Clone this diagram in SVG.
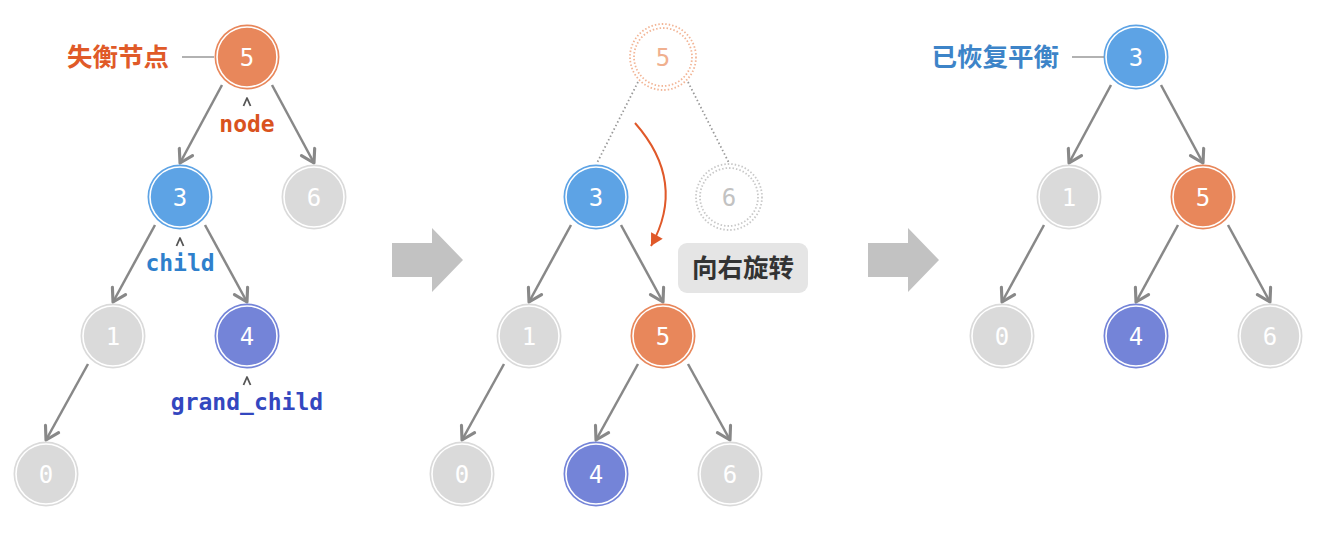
<svg xmlns="http://www.w3.org/2000/svg" width="1322" height="540" viewBox="0 0 1322 540">
<style>
.ring{stroke:none}
.inner{stroke:#fff;stroke-width:1.6}
.orange{fill:#E8875B}
.blue{fill:#5DA3E5}
.purple{fill:#7484D8}
.gray{fill:#DADADA}
.num{font-family:"DejaVu Sans Mono","Liberation Mono",monospace;font-size:24px;fill:#fff;text-anchor:middle}
.edge{stroke:#888;stroke-width:2.5;fill:none;marker-end:url(#chev)}
.dot{stroke:#999;stroke-width:1.8;fill:none;stroke-dasharray:1.5 2.5}
.lbl{font-family:"DejaVu Sans Mono","Liberation Mono",monospace;font-weight:bold;font-size:23px;text-anchor:middle}
.cjk{font-family:"Noto Sans CJK SC","Noto Sans",sans-serif;font-weight:bold;font-size:25.5px}
.tick{stroke:#555;stroke-width:1.8;fill:none;stroke-linejoin:round}
.lead{stroke:#999;stroke-width:1.5}
.bigarrow{fill:#C2C2C2}
</style>
<defs>
<marker id="chev" markerUnits="userSpaceOnUse" markerWidth="20" markerHeight="20" refX="0" refY="0" viewBox="-12 -8 14 16" orient="auto">
<path d="M-10,-6 L0,0 L-10,6" fill="none" stroke="#888" stroke-width="2.5" stroke-linecap="round" stroke-linejoin="round"/>
</marker>
<marker id="tri" markerUnits="userSpaceOnUse" markerWidth="16" markerHeight="16" refX="0" refY="0" viewBox="-10 -6 12 12" orient="auto">
<path d="M-9,-5 L0,0 L-9,5 Z" fill="#E0592A"/>
</marker>
</defs>

<!-- big arrows -->
<polygon class="bigarrow" points="392,243 432,243 432,228 463,260 432,292 432,277 392,277"/>
<polygon class="bigarrow" points="868,243 908,243 908,228 939,260 908,292 908,277 868,277"/>

<g id="connectors">
<!-- left tree -->
<path class="edge" d="M222,85 L180,163"/>
<path class="edge" d="M272,85 L314,163"/>
<path class="edge" d="M155,225 L113,302"/>
<path class="edge" d="M205,225 L247,302"/>
<path class="edge" d="M88,364 L46,440"/>
<!-- middle tree -->
<path class="dot" d="M638,82 L597,163"/>
<path class="dot" d="M688,82 L729,163"/>
<path class="edge" d="M571,225 L529,302"/>
<path class="edge" d="M621,225 L663,302"/>
<path class="edge" d="M504,364 L462,440"/>
<path class="edge" d="M638,364 L596,440"/>
<path class="edge" d="M688,364 L730,440"/>
<path d="M635,123 Q687,182 651,246" fill="none" stroke="#E0592A" stroke-width="2" marker-end="url(#tri)"/>
<!-- right tree -->
<path class="edge" d="M1111,85 L1069,163"/>
<path class="edge" d="M1161,85 L1203,163"/>
<path class="edge" d="M1044,225 L1002,302"/>
<path class="edge" d="M1178,225 L1136,302"/>
<path class="edge" d="M1228,225 L1270,302"/>
</g>

<!-- left tree nodes -->
<g id="L5"><circle class="ring orange" cx="247" cy="57" r="32.5"/><circle class="inner orange" cx="247" cy="57" r="30"/><text class="num" x="247" y="65.5">5</text></g>
<g id="L3"><circle class="ring blue" cx="180" cy="197" r="32.5"/><circle class="inner blue" cx="180" cy="197" r="30"/><text class="num" x="180" y="205.5">3</text></g>
<g id="L6"><circle class="ring gray" cx="314" cy="197" r="32.5"/><circle class="inner gray" cx="314" cy="197" r="30"/><text class="num" x="314" y="205.5">6</text></g>
<g id="L1"><circle class="ring gray" cx="113" cy="336" r="32.5"/><circle class="inner gray" cx="113" cy="336" r="30"/><text class="num" x="113" y="344.5">1</text></g>
<g id="L4"><circle class="ring purple" cx="247" cy="336" r="32.5"/><circle class="inner purple" cx="247" cy="336" r="30"/><text class="num" x="247" y="344.5">4</text></g>
<g id="L0"><circle class="ring gray" cx="46" cy="474" r="32.5"/><circle class="inner gray" cx="46" cy="474" r="30"/><text class="num" x="46" y="482.5">0</text></g>

<g id="label-unbalanced">
<text class="cjk" x="169" y="66" text-anchor="end" fill="#E05A28">失衡节点</text>
<line class="lead" x1="182" y1="57" x2="214" y2="57"/>
</g>
<g id="label-node"><path class="tick" d="M243.5,106 L247,98 L250.5,106"/><text class="lbl" x="247" y="132" fill="#D9531E">node</text></g>
<g id="label-child"><path class="tick" d="M176.5,246 L180,238 L183.5,246"/><text class="lbl" x="180" y="271" fill="#2F80CC">child</text></g>
<g id="label-grandchild"><path class="tick" d="M243.5,385 L247,377 L250.5,385"/><text class="lbl" x="247" y="410" fill="#3347BF">grand_child</text></g>

<!-- middle tree nodes -->
<g id="M5old">
<circle cx="663" cy="57" r="33" fill="none" stroke="#F2B596" stroke-width="1.8" stroke-dasharray="1.5 2"/>
<circle cx="663" cy="57" r="29" fill="none" stroke="#F2B596" stroke-width="1.8" stroke-dasharray="1.5 2"/>
<text class="num" x="663" y="65.5" style="fill:#F0B08F">5</text>
</g>
<g id="M6old">
<circle cx="729" cy="197" r="33" fill="none" stroke="#C8C8C8" stroke-width="1.8" stroke-dasharray="1.5 2"/>
<circle cx="729" cy="197" r="29" fill="none" stroke="#C8C8C8" stroke-width="1.8" stroke-dasharray="1.5 2"/>
<text class="num" x="729" y="205.5" style="fill:#C2C2C2">6</text>
</g>
<g id="M3"><circle class="ring blue" cx="596" cy="197" r="32.5"/><circle class="inner blue" cx="596" cy="197" r="30"/><text class="num" x="596" y="205.5">3</text></g>
<g id="M1"><circle class="ring gray" cx="529" cy="336" r="32.5"/><circle class="inner gray" cx="529" cy="336" r="30"/><text class="num" x="529" y="344.5">1</text></g>
<g id="M5"><circle class="ring orange" cx="663" cy="336" r="32.5"/><circle class="inner orange" cx="663" cy="336" r="30"/><text class="num" x="663" y="344.5">5</text></g>
<g id="M0"><circle class="ring gray" cx="462" cy="474" r="32.5"/><circle class="inner gray" cx="462" cy="474" r="30"/><text class="num" x="462" y="482.5">0</text></g>
<g id="M4"><circle class="ring purple" cx="596" cy="474" r="32.5"/><circle class="inner purple" cx="596" cy="474" r="30"/><text class="num" x="596" y="482.5">4</text></g>
<g id="M6"><circle class="ring gray" cx="730" cy="474" r="32.5"/><circle class="inner gray" cx="730" cy="474" r="30"/><text class="num" x="730" y="482.5">6</text></g>

<g id="label-rotate">
<rect x="678" y="243" width="130" height="50" rx="9" fill="#E5E5E5"/>
<text class="cjk" x="743" y="277" text-anchor="middle" fill="#333">向右旋转</text>
</g>

<!-- right tree nodes -->
<g id="R3"><circle class="ring blue" cx="1136" cy="57" r="32.5"/><circle class="inner blue" cx="1136" cy="57" r="30"/><text class="num" x="1136" y="65.5">3</text></g>
<g id="R1"><circle class="ring gray" cx="1069" cy="197" r="32.5"/><circle class="inner gray" cx="1069" cy="197" r="30"/><text class="num" x="1069" y="205.5">1</text></g>
<g id="R5"><circle class="ring orange" cx="1203" cy="197" r="32.5"/><circle class="inner orange" cx="1203" cy="197" r="30"/><text class="num" x="1203" y="205.5">5</text></g>
<g id="R0"><circle class="ring gray" cx="1002" cy="336" r="32.5"/><circle class="inner gray" cx="1002" cy="336" r="30"/><text class="num" x="1002" y="344.5">0</text></g>
<g id="R4"><circle class="ring purple" cx="1136" cy="336" r="32.5"/><circle class="inner purple" cx="1136" cy="336" r="30"/><text class="num" x="1136" y="344.5">4</text></g>
<g id="R6"><circle class="ring gray" cx="1270" cy="336" r="32.5"/><circle class="inner gray" cx="1270" cy="336" r="30"/><text class="num" x="1270" y="344.5">6</text></g>

<g id="label-balanced">
<text class="cjk" x="1059" y="66" text-anchor="end" fill="#3D84C8">已恢复平衡</text>
<line class="lead" x1="1072" y1="57" x2="1104" y2="57"/>
</g>
</svg>
